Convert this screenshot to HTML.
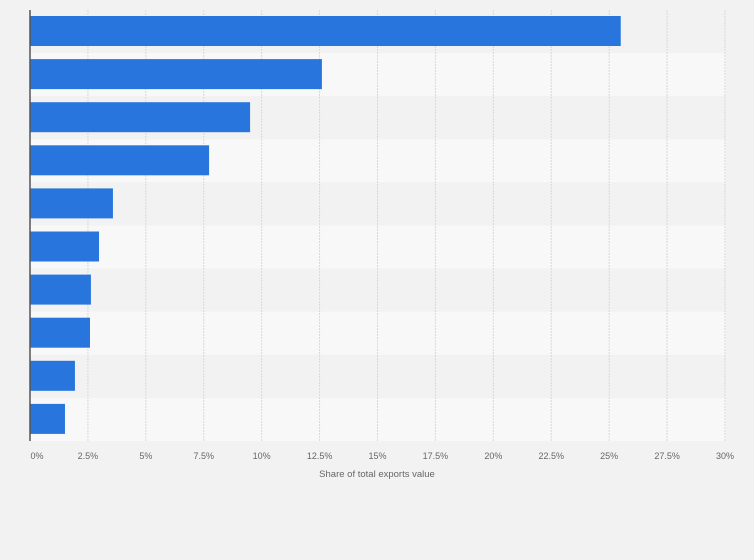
<!DOCTYPE html>
<html><head><meta charset="utf-8"><style>
body{margin:0;background:#f2f2f2;}
svg{display:block;font-family:"Liberation Sans",sans-serif;}
</style></head><body>
<svg width="754" height="560">
<rect width="754" height="560" fill="#f2f2f2"/>
<g id="bands"></g><g id="grid"></g><g id="bars"></g><g id="ticks"></g>
<line x1="30" y1="10" x2="30" y2="441" stroke="#555" stroke-width="1.5"/>
<text x="377" y="477" text-anchor="middle" font-size="9.5" fill="#666">Share of total exports value</text>
</svg>
<script>
const categories=["c1","c2","c3","c4","c5","c6","c7","c8","c9","c10"];
const values=[25.5,12.6,9.5,7.73,3.58,2.98,2.63,2.59,1.94,1.51];
const tickValues=[0,2.5,5,7.5,10,12.5,15,17.5,20,22.5,25,27.5,30];
const tickLabels=["0%","2.5%","5%","7.5%","10%","12.5%","15%","17.5%","20%","22.5%","25%","27.5%","30%"];
const NS="http://www.w3.org/2000/svg";
const x0=30,x1=725,plotTop=10,plotBottom=441,xMax=30;
const xs=v=>x0+(v/xMax)*(x1-x0);
const band=(plotBottom-plotTop)/categories.length;
const ys=i=>plotTop+i*band;
function mk(t,a,p){const e=document.createElementNS(NS,t);for(const k in a)e.setAttribute(k,a[k]);document.getElementById(p).appendChild(e);return e;}
categories.forEach((c,i)=>{
  const b=mk("rect",{x:x0,y:ys(i),width:x1+1-x0,height:band,fill:i%2?"#f8f8f8":"#f2f2f2"},"bands");
  
  
});
tickValues.forEach((v,i)=>{
  if(i>0){const g=mk("line",{x1:xs(v),x2:xs(v),y1:plotTop,y2:plotBottom,stroke:"#d8d8d8","stroke-dasharray":"2,1"},"grid");
  
  }
  const t=mk("text",{x:xs(v)+(i==0?7:0),y:459,"text-anchor":"middle","font-size":"9",fill:"#666"},"ticks");
  t.textContent=tickLabels[i];
  
  
});
values.forEach((v,i)=>{
  const r=mk("rect",{x:x0,y:ys(i)+6,width:xs(v)-x0,height:30,fill:"#2876dd"},"bars");
  
  
});
</script>
</body></html>
